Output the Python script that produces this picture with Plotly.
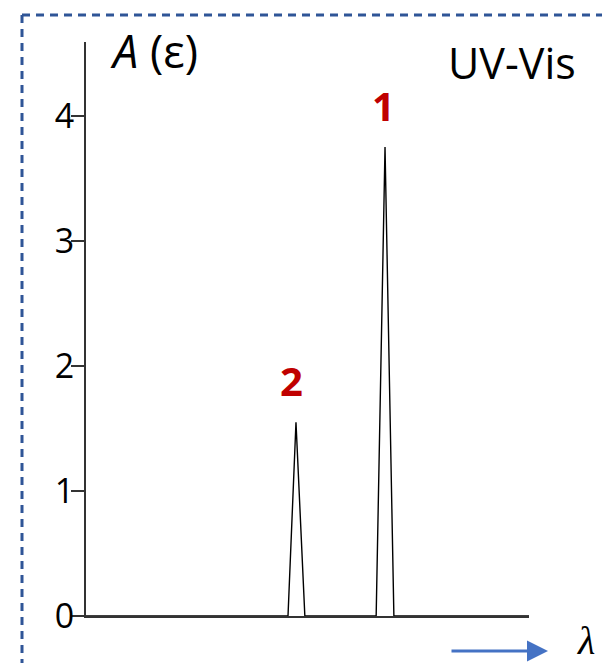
import plotly.graph_objects as go

# ---- data ----
peak_labels = ["2", "1"]
peak_left = [45.6, 65.5]
peak_center = [47.4, 67.5]
peak_right = [49.4, 69.5]
peak_height = [1.55, 3.75]
x_start, x_end = 0, 100
y_ticks = [0, 1, 2, 3, 4]

# build the spectrum polyline from the arrays
xs = [x_start]
ys = [0]
for l, c, r, h in zip(peak_left, peak_center, peak_right, peak_height):
    xs += [l, c, r]
    ys += [0, h, 0]
xs.append(x_end)
ys.append(0)

W, H = 602, 663
ML, MR, MT, MB = 86, 73, 42, 47
PW, PH = W - ML - MR, H - MT - MB


def px(xp):
    return (xp - ML) / PW


def py(yp):
    return (H - MB - yp) / PH


fig = go.Figure()
fig.add_trace(go.Scatter(x=xs, y=ys, mode="lines",
                         line=dict(color="black", width=1.4),
                         hoverinfo="skip", showlegend=False))

annotations = []
for lab, c, h, dx in zip(peak_labels, peak_center, peak_height, [-4, -2]):
    annotations.append(dict(x=c, y=h, xref="x", yref="y", text=f"<b>{lab}</b>",
                            showarrow=False, yanchor="bottom", xanchor="center",
                            yshift=12, xshift=dx,
                            font=dict(family="Open Sans", size=40, color="#C00000")))

annotations += [
    dict(x=px(108), y=py(50), xref="paper", yref="paper", text="<i>A</i> (ε)",
         showarrow=False, xanchor="left", yanchor="middle",
         font=dict(family="Open Sans", size=45, color="black")),
    dict(x=px(511.5), y=py(62), xref="paper", yref="paper", text="UV-Vis",
         showarrow=False, xanchor="center", yanchor="middle",
         font=dict(family="Open Sans", size=43, color="black")),
    dict(x=px(586), y=py(640), xref="paper", yref="paper", text="<i>λ</i>",
         showarrow=False, xanchor="center", yanchor="middle",
         font=dict(family="Liberation Serif", size=40, color="black")),
    dict(x=px(548), y=py(651), xref="paper", yref="paper", text="",
         showarrow=True, ax=-98, ay=0, arrowhead=2, arrowsize=1.4,
         arrowwidth=3, arrowcolor="#4472C4"),
]

dash = dict(color="#2F5597", width=3, dash="8px,6px")
shapes = [
    dict(type="line", xref="paper", yref="paper", x0=px(22), x1=px(22),
         y0=py(15), y1=py(700), line=dash),
    dict(type="line", xref="paper", yref="paper", x0=px(22), x1=px(640),
         y0=py(15), y1=py(15), line=dash),
]

fig.update_layout(
    width=W, height=H,
    margin=dict(l=ML, r=MR, t=MT, b=MB),
    plot_bgcolor="white", paper_bgcolor="white",
    annotations=annotations, shapes=shapes,
    xaxis=dict(range=[x_start, x_end], showline=True, linecolor="#333",
               linewidth=2, showticklabels=False, ticks="", showgrid=False,
               zeroline=False, fixedrange=True),
    yaxis=dict(range=[0, 4.59], showline=True, linecolor="#333", linewidth=2,
               ticks="outside", ticklen=13, tickwidth=1.5, tickcolor="#333",
               tickvals=y_ticks, ticktext=[str(v) for v in y_ticks],
               ticklabelstandoff=-10,
               tickfont=dict(family="Open Sans", size=34, color="black"),
               showgrid=False, zeroline=False, fixedrange=True),
)

fig.write_html("out.html")
